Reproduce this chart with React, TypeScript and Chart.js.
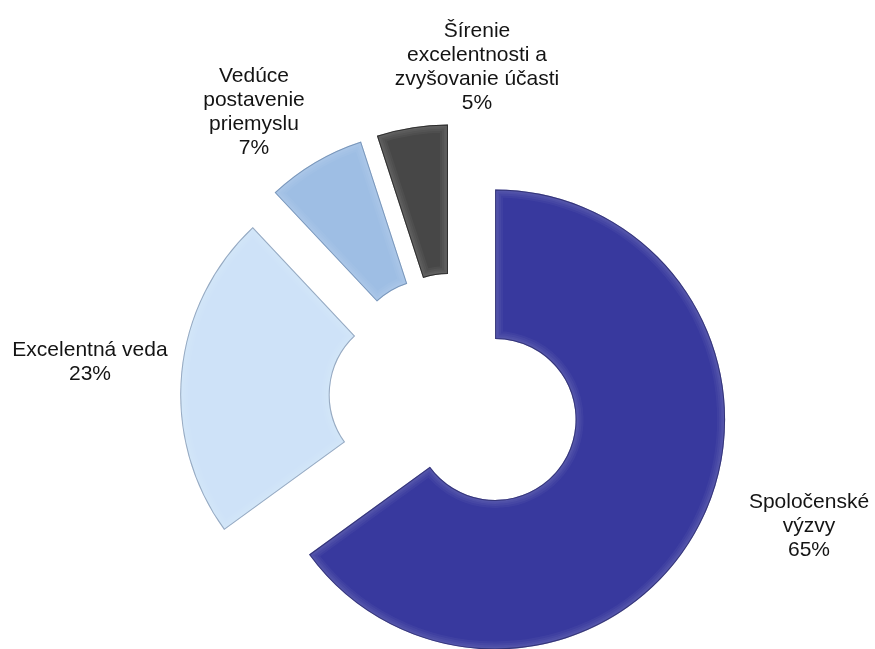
import React, { useEffect, useRef } from 'react';
import { Chart, registerables, ArcElement, DoughnutController } from 'chart.js';

Chart.register(...registerables);

// ---- data ----
const CATEGORIES = [
  'Spoločenské výzvy',
  'Excelentná veda',
  'Vedúce postavenie priemyslu',
  'Šírenie excelentnosti a zvyšovanie účasti',
];
const VALUES = [65, 23, 7, 5];
const LABEL_LINES = [
  ['Spoločenské', 'výzvy'],
  ['Excelentná veda'],
  ['Vedúce', 'postavenie', 'priemyslu'],
  ['Šírenie', 'excelentnosti a', 'zvyšovanie účasti'],
];

// ---- style / layout ----
const COLORS = ['#38399E', '#CEE2F8', '#9EBEE4', '#474747'];
const EDGE_COLORS = ['rgba(20,20,70,0.5)', 'rgba(90,110,140,0.5)', 'rgba(60,90,130,0.45)', 'rgba(0,0,0,0.55)'];
const EXPLODE = 45;
const LABEL_ANCHORS = [
  [354, 109],
  [-365, -43],
  [-201, -317],
  [22, -362],
];
const LINE_HEIGHT = 24;
const FONT = "21px 'Liberation Sans', Arial, sans-serif";

class ExplodedArc extends ArcElement {
  static id = 'explodedArc';
  draw(ctx: CanvasRenderingContext2D) {
    const self: any = this;
    const idx = self.$context ? self.$context.dataIndex : 0;
    const half = (self.startAngle + self.endAngle) / 2;
    ctx.save();
    ctx.translate(Math.cos(half) * EXPLODE, Math.sin(half) * EXPLODE);
    super.draw(ctx);
    const { x, y, startAngle, endAngle, innerRadius, outerRadius } = self;
    ctx.beginPath();
    ctx.arc(x, y, outerRadius, startAngle, endAngle);
    ctx.arc(x, y, innerRadius, endAngle, startAngle, true);
    ctx.closePath();
    ctx.save();
    ctx.clip();
    ctx.lineJoin = 'round';
    [16, 12, 8, 5].forEach((w) => {
      ctx.strokeStyle = 'rgba(255,255,255,0.04)';
      ctx.lineWidth = w;
      ctx.stroke();
    });
    ctx.strokeStyle = EDGE_COLORS[idx] || 'rgba(0,0,0,0.4)';
    ctx.lineWidth = 2;
    ctx.stroke();
    ctx.restore();
    ctx.restore();
  }
}

class ExplodedDoughnut extends DoughnutController {
  static id = 'explodedDoughnut';
  static defaults = { dataElementType: 'explodedArc' };
}

Chart.register(ExplodedArc as any, ExplodedDoughnut as any);

const labelPlugin = {
  id: 'sliceLabels',
  afterDatasetsDraw(chart: any) {
    const meta = chart.getDatasetMeta(0);
    if (!meta.data.length) return;
    const cx = meta.data[0].x;
    const cy = meta.data[0].y;
    const ctx = chart.ctx;
    ctx.save();
    ctx.font = FONT;
    ctx.fillStyle = '#141414';
    ctx.textAlign = 'center';
    ctx.textBaseline = 'alphabetic';
    CATEGORIES.forEach((_, i) => {
      const lines = [...LABEL_LINES[i], `${VALUES[i]}%`];
      const [dx, dy] = LABEL_ANCHORS[i];
      lines.forEach((ln, j) => {
        ctx.fillText(ln, cx + dx, cy + dy + j * LINE_HEIGHT);
      });
    });
    ctx.restore();
  },
};

export default function App() {
  const ref = useRef<HTMLCanvasElement | null>(null);
  useEffect(() => {
    if (!ref.current) return;
    const chart = new Chart(ref.current, {
      type: 'explodedDoughnut' as any,
      data: {
        labels: CATEGORIES,
        datasets: [
          {
            data: VALUES,
            backgroundColor: COLORS,
            borderWidth: 0,
          } as any,
        ],
      },
      options: {
        animation: false,
        responsive: true,
        maintainAspectRatio: false,
        radius: 230,
        cutout: '35%',
        layout: { padding: { left: 35, top: 149, right: 0, bottom: 0 } },
        plugins: {
          legend: { display: false },
          tooltip: { enabled: false },
        },
        events: [],
      } as any,
      plugins: [labelPlugin],
    });
    return () => chart.destroy();
  }, []);
  return (
    <div style={{ position: 'fixed', left: 0, top: 0, width: 875, height: 649, background: '#fff' }}>
      <canvas ref={ref} />
    </div>
  );
}
